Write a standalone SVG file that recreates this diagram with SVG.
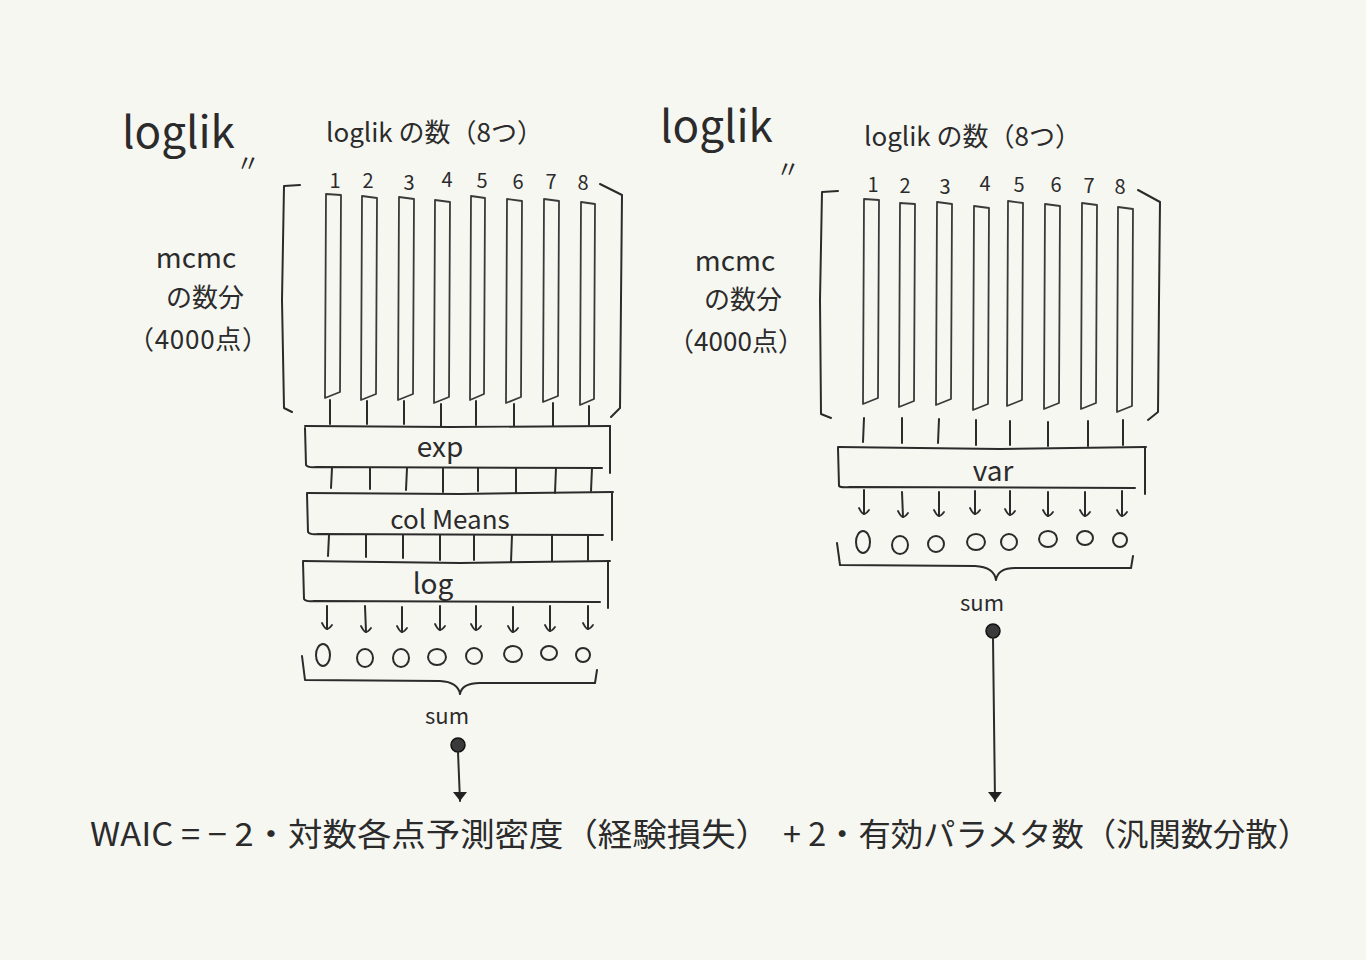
<svg xmlns="http://www.w3.org/2000/svg" width="1366" height="960" viewBox="0 0 1366 960">
<style>
.ln{fill:none;stroke:#2b2b2b;stroke-width:2;stroke-linecap:round;stroke-linejoin:round}
.bar{fill:none;stroke:#3a3a3a;stroke-width:1.8;stroke-linejoin:round}
.t{font-family:"Noto Sans CJK JP","Noto Sans",sans-serif;fill:#2b2b2b;font-weight:400}
.c{fill:none;stroke:#2b2b2b;stroke-width:2}
</style>
<defs>
<marker id="v" viewBox="0 0 12 10" refX="6" refY="9" markerWidth="12" markerHeight="10" markerUnits="userSpaceOnUse" orient="0">
<path d="M1 3 Q4 9 6 9 Q8 9 11 5" fill="none" stroke="#2b2b2b" stroke-width="1.8" stroke-linecap="round"/>
</marker>
<marker id="tri" viewBox="0 0 16 12" refX="8" refY="11" markerWidth="16" markerHeight="12" markerUnits="userSpaceOnUse" orient="0">
<path d="M1 2 L15 2 L8 11 Z" fill="#222"/>
</marker>
</defs>
<rect width="1366" height="960" fill="#f7f7f2"/>

<g id="left-panel">
<g id="left-title">
<text class="t" x="122" y="148" font-size="44" font-weight="300">loglik</text>
<text class="t" x="236" y="172" font-size="24">〃</text>
<text class="t" x="326" y="142" font-size="26" font-weight="300">loglik の数（8つ）</text>
</g>
<g id="left-mcmc">
<text class="t" x="196" y="268" font-size="28" font-weight="300" text-anchor="middle">mcmc</text>
<text class="t" x="205" y="307" font-size="26" font-weight="300" text-anchor="middle">の数分</text>
<text class="t" x="198" y="349" font-size="26" font-weight="300" text-anchor="middle" textLength="140">（4000点）</text>
</g>
<g id="left-matrix">
<path class="ln" d="M300 185 L284 186 L282 300 L284 408 L292 412"/>
<path class="ln" d="M600 184 L622 195 L621 300 L620 408 L611 417"/>
<g font-size="20">
<text class="t" x="335" y="188" text-anchor="middle">1</text>
<text class="t" x="368" y="188" text-anchor="middle">2</text>
<text class="t" x="409" y="190" text-anchor="middle">3</text>
<text class="t" x="447" y="187" text-anchor="middle">4</text>
<text class="t" x="482" y="188" text-anchor="middle">5</text>
<text class="t" x="518" y="189" text-anchor="middle">6</text>
<text class="t" x="551" y="189" text-anchor="middle">7</text>
<text class="t" x="583" y="190" text-anchor="middle">8</text>
</g>
<path class="bar" d="M326 194 L341 195 L340 392 L325 398 Z"/>
<path class="bar" d="M362 196 L377 198 L376 394 L361 400 Z"/>
<path class="bar" d="M399 197 L414 199 L413 394 L398 400 Z"/>
<path class="bar" d="M435 200 L450 202 L449 397 L434 403 Z"/>
<path class="bar" d="M471 196 L485 198 L484 394 L470 400 Z"/>
<path class="bar" d="M507 199 L522 201 L521 397 L506 403 Z"/>
<path class="bar" d="M544 199 L559 201 L558 396 L543 402 Z"/>
<path class="bar" d="M581 202 L595 204 L594 399 L580 405 Z"/>
</g>
<g id="box-exp">
<path class="ln" d="M305 426 L450 427 L610 426"/>
<path class="ln" d="M305 428 L306 465 Q308 468 316 467 L602 468"/>
<path class="ln" d="M610 426 L610 473"/>
<text class="t" x="440" y="457" font-size="28" font-weight="300" text-anchor="middle">exp</text>
</g>
<g id="box-colmeans">
<path class="ln" d="M307 493 L460 494 L613 492"/>
<path class="ln" d="M307 494 L308 532 Q310 535 318 534 L603 535"/>
<path class="ln" d="M612 492 L612 540"/>
<text class="t" x="450" y="529" font-size="26" font-weight="300" text-anchor="middle">col Means</text>
</g>
<g id="box-log">
<path class="ln" d="M303 561 L460 563 L610 561"/>
<path class="ln" d="M303 562 L304 599 Q306 602 314 601 L600 602"/>
<path class="ln" d="M608 561 L608 608"/>
<text class="t" x="433" y="594" font-size="28" font-weight="300" text-anchor="middle">log</text>
</g>
<g id="left-results">
<ellipse class="c" cx="323" cy="655" rx="7" ry="11"/>
<ellipse class="c" cx="365" cy="658" rx="8" ry="9"/>
<ellipse class="c" cx="401" cy="658" rx="8" ry="9"/>
<ellipse class="c" cx="437" cy="657" rx="9" ry="8"/>
<ellipse class="c" cx="474" cy="656" rx="8" ry="8"/>
<ellipse class="c" cx="513" cy="654" rx="9" ry="8"/>
<ellipse class="c" cx="549" cy="653" rx="8" ry="7"/>
<ellipse class="c" cx="583" cy="655" rx="7" ry="7"/>
<path class="ln" d="M302 656 L305 680 L440 681 Q458 682 460 694 Q462 683 480 683 L595 683 L597 670"/>
<text class="t" x="447" y="724" font-size="22" font-weight="300" text-anchor="middle">sum</text>
<circle cx="458" cy="745" r="7" fill="#3a3a3a" stroke="#111" stroke-width="1.5"/>
</g>
</g>

<g id="right-panel">
<g id="right-title">
<text class="t" x="660" y="142" font-size="44" font-weight="300">loglik</text>
<text class="t" x="776" y="178" font-size="24">〃</text>
<text class="t" x="864" y="146" font-size="26" font-weight="300">loglik の数（8つ）</text>
</g>
<g id="right-mcmc">
<text class="t" x="735" y="271" font-size="28" font-weight="300" text-anchor="middle">mcmc</text>
<text class="t" x="743" y="309" font-size="26" font-weight="300" text-anchor="middle">の数分</text>
<text class="t" x="736" y="351" font-size="26" font-weight="300" text-anchor="middle" textLength="136">（4000点）</text>
</g>
<g id="right-matrix">
<path class="ln" d="M838 191 L822 192 L820 300 L821 414 L831 418"/>
<path class="ln" d="M1138 190 L1160 202 L1159 300 L1158 412 L1148 420"/>
<g font-size="20">
<text class="t" x="873" y="192" text-anchor="middle">1</text>
<text class="t" x="905" y="193" text-anchor="middle">2</text>
<text class="t" x="945" y="194" text-anchor="middle">3</text>
<text class="t" x="985" y="191" text-anchor="middle">4</text>
<text class="t" x="1019" y="192" text-anchor="middle">5</text>
<text class="t" x="1056" y="192" text-anchor="middle">6</text>
<text class="t" x="1089" y="193" text-anchor="middle">7</text>
<text class="t" x="1120" y="194" text-anchor="middle">8</text>
</g>
<path class="bar" d="M864 199 L879 200 L878 398 L863 404 Z"/>
<path class="bar" d="M900 203 L915 204 L914 401 L899 407 Z"/>
<path class="bar" d="M937 202 L952 204 L951 399 L936 405 Z"/>
<path class="bar" d="M974 206 L989 208 L988 404 L973 410 Z"/>
<path class="bar" d="M1008 201 L1023 203 L1022 400 L1007 406 Z"/>
<path class="bar" d="M1045 204 L1060 206 L1059 403 L1044 409 Z"/>
<path class="bar" d="M1082 203 L1097 205 L1096 403 L1081 409 Z"/>
<path class="bar" d="M1118 207 L1133 209 L1132 406 L1117 412 Z"/>
</g>
<g id="box-var">
<path class="ln" d="M838 447 L1000 449 L1146 447"/>
<path class="ln" d="M838 448 L839 486 Q841 488 850 487 L1135 488"/>
<path class="ln" d="M1145 447 L1145 494"/>
<text class="t" x="993" y="481" font-size="28" font-weight="300" text-anchor="middle">var</text>
</g>
<g id="right-results">
<ellipse class="c" cx="863" cy="542" rx="7" ry="11"/>
<ellipse class="c" cx="900" cy="545" rx="8" ry="9"/>
<ellipse class="c" cx="936" cy="544" rx="8" ry="8"/>
<ellipse class="c" cx="976" cy="542" rx="9" ry="8"/>
<ellipse class="c" cx="1009" cy="542" rx="8" ry="8"/>
<ellipse class="c" cx="1048" cy="539" rx="9" ry="8"/>
<ellipse class="c" cx="1085" cy="538" rx="8" ry="7"/>
<ellipse class="c" cx="1120" cy="540" rx="7" ry="7"/>
<path class="ln" d="M837 543 L840 565 L975 566 Q994 567 996 580 Q998 568 1015 568 L1131 568 L1133 556"/>
<text class="t" x="982" y="611" font-size="22" font-weight="300" text-anchor="middle">sum</text>
<circle cx="993" cy="631" r="7" fill="#3a3a3a" stroke="#111" stroke-width="1.5"/>
</g>
</g>

<g id="connectors">
<g class="ln">
<path d="M330 400 L330 424"/><path d="M367 401 L367 424"/><path d="M404 401 L404 424"/><path d="M441 404 L441 426"/>
<path d="M476 401 L476 425"/><path d="M514 404 L514 426"/><path d="M553 403 L553 426"/><path d="M589 406 L589 425"/>
<path d="M332 468 L331 488"/><path d="M370 468 L370 489"/><path d="M407 468 L406 490"/><path d="M443 468 L443 492"/>
<path d="M478 468 L478 491"/><path d="M516 468 L516 493"/><path d="M556 468 L555 493"/><path d="M592 468 L591 491"/>
<path d="M329 535 L328 556"/><path d="M366 535 L366 557"/><path d="M403 535 L403 558"/><path d="M440 535 L440 560"/>
<path d="M474 535 L474 560"/><path d="M512 535 L511 562"/><path d="M552 535 L552 561"/><path d="M588 535 L588 560"/>
<path d="M864 418 L863 442"/><path d="M902 418 L902 443"/><path d="M939 419 L938 443"/><path d="M976 420 L976 445"/>
<path d="M1010 421 L1010 445"/><path d="M1048 422 L1048 446"/><path d="M1088 421 L1088 446"/><path d="M1123 420 L1123 445"/>
</g>
<g class="ln" marker-end="url(#v)">
<path d="M327 606 L327 629"/><path d="M365 606 L366 632"/><path d="M402 607 L402 632"/><path d="M440 606 L440 630"/>
<path d="M476 606 L476 630"/><path d="M513 607 L513 632"/><path d="M550 606 L550 631"/><path d="M588 606 L588 629"/>
<path d="M864 490 L864 514"/><path d="M902 492 L903 517"/><path d="M939 492 L939 516"/><path d="M975 491 L975 514"/>
<path d="M1010 491 L1010 515"/><path d="M1048 492 L1048 516"/><path d="M1085 492 L1085 516"/><path d="M1122 491 L1122 516"/>
</g>
<path class="ln" d="M458 752 L460 801" marker-end="url(#tri)"/>
<path class="ln" d="M993 638 L995 801" marker-end="url(#tri)"/>
</g>

<g id="formula">
<text class="t" x="90" y="846" font-size="32" font-weight="300" textLength="680" lengthAdjust="spacingAndGlyphs">WAIC = − 2・対数各点予測密度（経験損失）</text>
<text class="t" x="783" y="846" font-size="32" font-weight="300" textLength="527" lengthAdjust="spacingAndGlyphs">+ 2・有効パラメタ数（汎関数分散）</text>
</g>
</svg>
